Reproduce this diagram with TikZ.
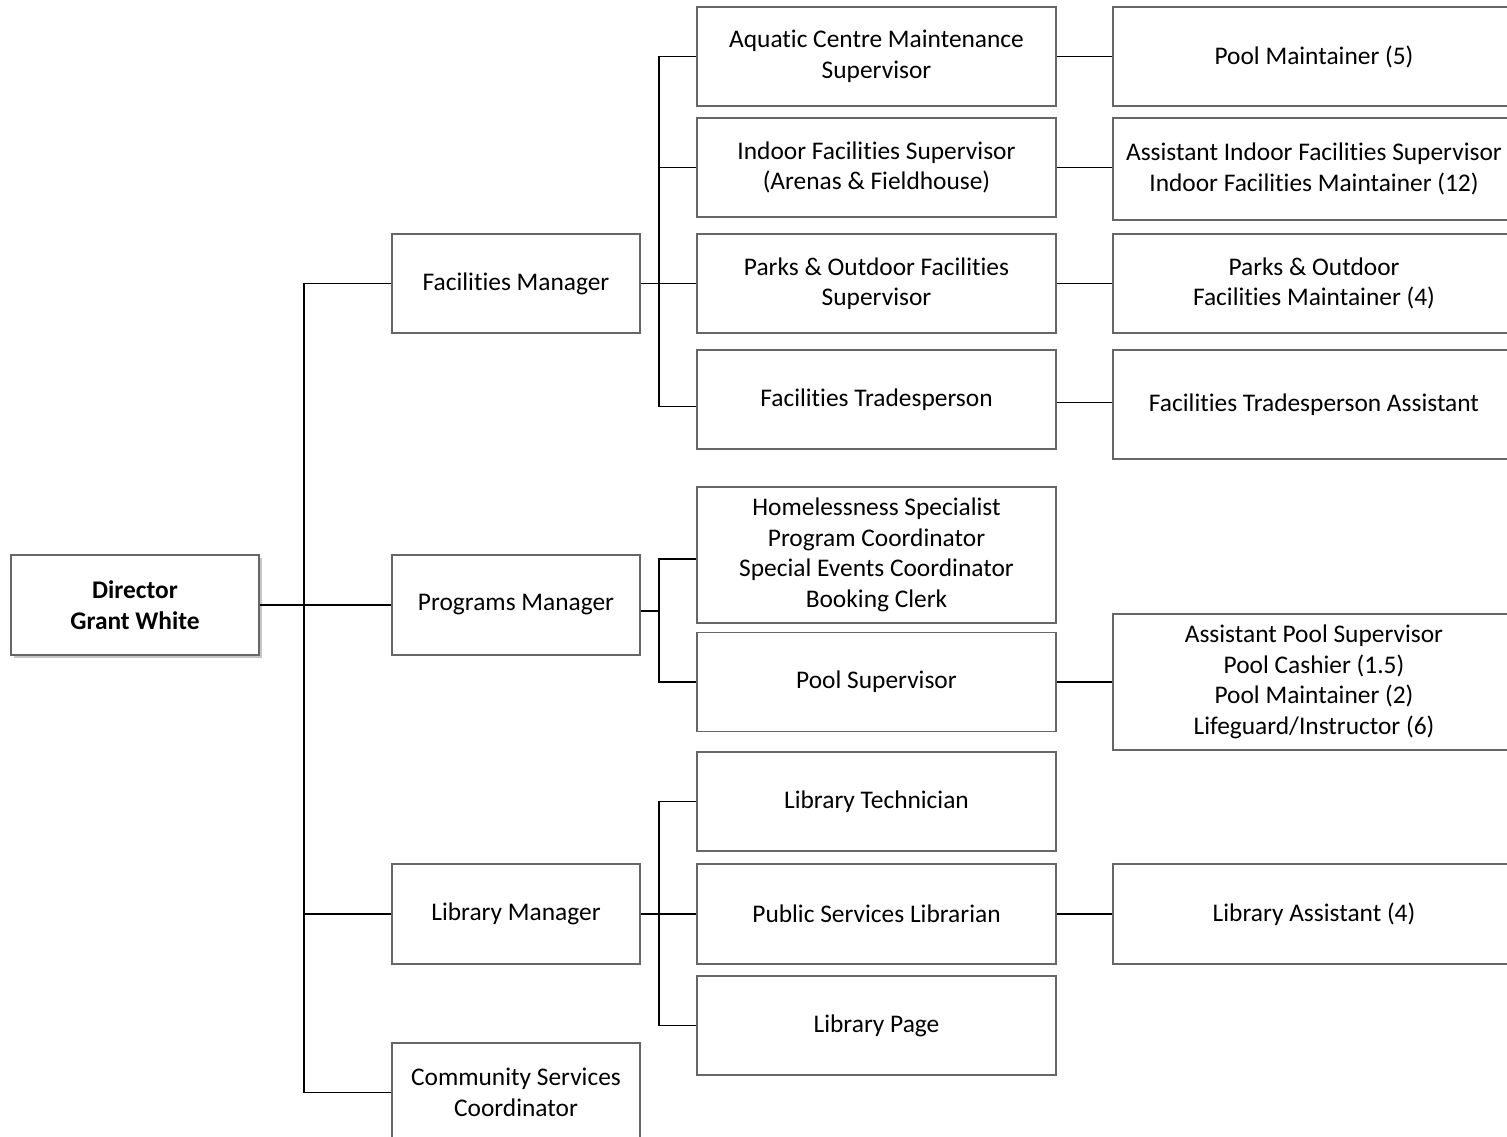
\documentclass[tikz,border=0pt]{standalone}
\usepackage{fontspec}
\setmainfont{Carlito}[Ligatures=NoCommon]
\usetikzlibrary{shadows,calc}
\begin{document}
\begin{tikzpicture}[x=1pt,y=-1pt,
  box/.style={draw=black!60,line width=1.5pt,fill=white,align=center,inner sep=0pt,
    font=\fontsize{25.4}{30.5}\selectfont},
  l2/.style={box,minimum width=248pt},
  l3/.style={box,minimum width=359pt},
  l4/.style={box,minimum width=402pt},
  conn/.style={draw=black,line width=1.2pt}]
\useasboundingbox (0,0) rectangle (1507,1137);
% level 1
\node[box,minimum width=248pt,minimum height=100pt,
  drop shadow={shadow xshift=3pt,shadow yshift=-3pt,opacity=0.45}]
  (dir) at (135,605) {\bfseries Director\\\bfseries Grant White};
% level 2
\node[l2,minimum height=99pt]  (fm) at (516,283.5) {Facilities Manager};
\node[l2,minimum height=100pt] (pm) at (516,605) {Programs Manager};
\node[l2,minimum height=100pt] (lm) at (516,914) {Library Manager};
\node[l2,minimum height=99pt]  (cs) at (516,1092.5) {Community Services\\Coordinator};
% level 3
\node[l3,minimum height=99pt]  (aq) at (876.5,56.5) {Aquatic Centre Maintenance\\Supervisor};
\node[l3,minimum height=99pt]  (in) at (876.5,167.5) {Indoor Facilities Supervisor\\(Arenas \& Fieldhouse)};
\node[l3,minimum height=99pt]  (pk) at (876.5,283.5) {Parks \& Outdoor Facilities\\Supervisor};
\node[l3,minimum height=99pt]  (ft) at (876.5,399.5) {Facilities Tradesperson};
\node[l3,minimum height=136pt] (ho) at (876.5,555) {Homelessness Specialist\\Program Coordinator\\Special Events Coordinator\\Booking Clerk};
\node[l3,minimum height=99pt]  (ps) at (876.5,682) {Pool Supervisor};
\node[l3,minimum height=99pt]  (lt) at (876.5,801.5) {Library Technician};
\node[l3,minimum height=100pt] (pl) at (876.5,914) {Public Services Librarian};
\node[l3,minimum height=99pt]  (lp) at (876.5,1025.5) {Library Page};
% level 4
\node[l4,minimum height=99pt]  (pm5) at (1314,56.5) {Pool Maintainer (5)};
\node[l4,minimum height=102pt] (aifs) at (1314,169) {Assistant Indoor Facilities Supervisor\\Indoor Facilities Maintainer (12)};
\node[l4,minimum height=99pt]  (pom) at (1314,283.5) {Parks \& Outdoor\\Facilities Maintainer (4)};
\node[l4,minimum height=109pt] (fta) at (1314,404.5) {Facilities Tradesperson Assistant};
\node[l4,minimum height=136pt] (pool) at (1314,682) {Assistant Pool Supervisor\\Pool Cashier (1.5)\\Pool Maintainer (2)\\Lifeguard/Instructor (6)};
\node[l4,minimum height=100pt] (la) at (1314,914) {Library Assistant (4)};
% bus coordinates
\coordinate (tr) at (304,0);
\coordinate (bf) at (659,0);
% trunk
\draw[conn] (dir.east) -- (pm.west);
\draw[conn] (fm.west) -- (fm.west -| tr) |- (cs.west);
\draw[conn] (lm.west) -- (lm.west -| tr);
% facilities
\draw[conn] (fm.east) -- (fm.east -| bf);
\draw[conn] (aq.west) -- (aq.west -| bf) |- ([yshift=-7pt]ft.west);
\draw[conn] (in.west) -- (in.west -| bf);
\draw[conn] (pk.west) -- (pk.west -| bf);
% programs
\draw[conn] ([yshift=-6pt]pm.east) -- ([yshift=-6pt]pm.east -| bf);
\draw[conn] ([yshift=-4pt]ho.west) -- ([yshift=-4pt]ho.west -| bf) |- (ps.west);
% library
\draw[conn] (lm.east) -- (lm.east -| bf);
\draw[conn] (lt.west) -- (lt.west -| bf) |- (lp.west);
\draw[conn] (pl.west) -- (pl.west -| bf);
% level 3 to 4
\draw[conn] (aq.east) -- (pm5.west);
\draw[conn] (in.east) -- (in.east -| aifs.west);
\draw[conn] (pk.east) -- (pom.west);
\draw[conn] ([yshift=-3pt]ft.east) -- ([yshift=-3pt]ft.east -| fta.west);
\draw[conn] (ps.east) -- (pool.west);
\draw[conn] (pl.east) -- (la.west);
\end{tikzpicture}
\end{document}
